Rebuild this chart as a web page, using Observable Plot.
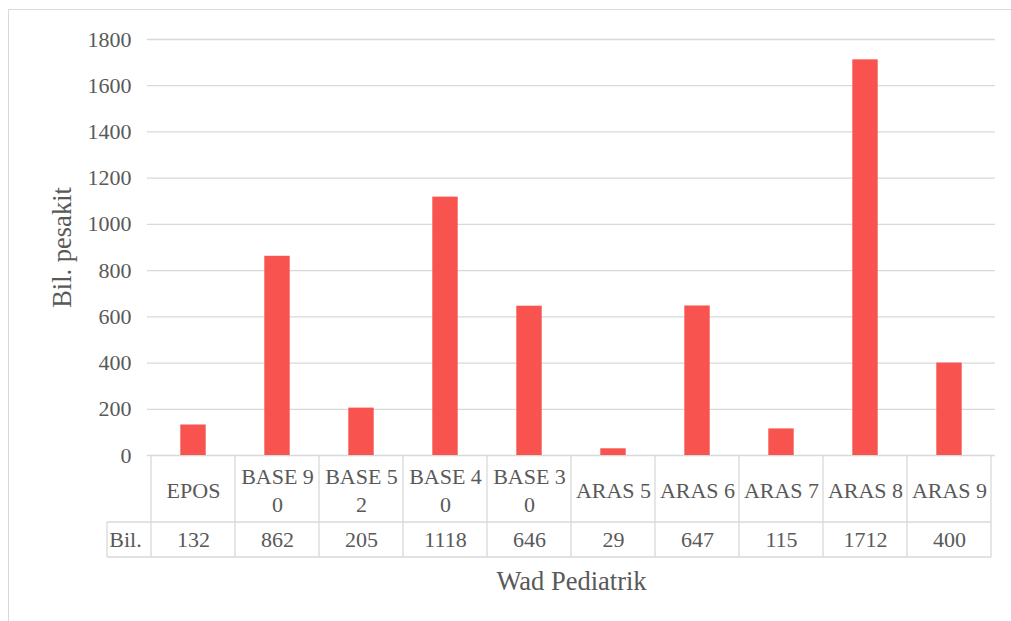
<!DOCTYPE html>
<html>
<head>
<meta charset="utf-8">
<script src="https://cdn.jsdelivr.net/npm/d3@7"></script>
<script src="https://cdn.jsdelivr.net/npm/@observablehq/plot@0.6"></script>
<style>
  html, body { margin: 0; padding: 0; background: #fff; overflow: hidden; }
  #wrap { position: relative; width: 1011px; height: 621px; }
  #frame { position: absolute; left: 8px; top: 9px; right: -4px; bottom: -4px;
           border-left: 1.5px solid #d9d9d9; border-top: 1.5px solid #d9d9d9; pointer-events: none; }
  #chart { position: absolute; left: 0; top: 0; }
  #chart svg, #chart svg text, #chart svg g { font-family: "Liberation Serif", "Times New Roman", "DejaVu Serif", serif !important; }
</style>
</head>
<body>
<div id="wrap"><div id="chart"></div><div id="frame"></div></div>
<script>
// ---- data ----
const categories = ["EPOS", "BASE 90", "BASE 52", "BASE 40", "BASE 30", "ARAS 5", "ARAS 6", "ARAS 7", "ARAS 8", "ARAS 9"];
const tableLabels = ["EPOS", "BASE 9\n0", "BASE 5\n2", "BASE 4\n0", "BASE 3\n0", "ARAS 5", "ARAS 6", "ARAS 7", "ARAS 8", "ARAS 9"];
const values = [132, 862, 205, 1118, 646, 29, 647, 115, 1712, 400];
const yTicks = [0, 200, 400, 600, 800, 1000, 1200, 1400, 1600, 1800];
const rowLabel = "Bil.";
const yTitle = "Bil. pesakit";
const xTitle = "Wad Pediatrik";

const data = categories.map((c, i) => ({category: c, label: tableLabels[i], value: values[i]}));

const textColor = "#595959";
const gridColor = "#d9d9d9";
const barColor = "#F8534E";
const fs = 22;

// table geometry (pixels below the x baseline)
const row1H = 67, row2H = 35, rowLabelW = 44;

function tableMark(index, scales, values_, dimensions) {
  const x = scales.x;
  const bw = x.bandwidth ? x.bandwidth() : (dimensions.width - dimensions.marginLeft - dimensions.marginRight) / categories.length;
  const y0 = scales.y(0);
  const edges = categories.map(c => x(c)).concat([x(categories[categories.length - 1]) + bw]);
  const left = edges[0], right = edges[edges.length - 1];
  const g = d3.create("svg:g").attr("stroke", gridColor).attr("stroke-width", 1.3).attr("fill", "none");
  g.append("line").attr("x1", left - rowLabelW).attr("x2", right).attr("y1", y0 + row1H).attr("y2", y0 + row1H);
  g.append("line").attr("x1", left - rowLabelW).attr("x2", right).attr("y1", y0 + row1H + row2H).attr("y2", y0 + row1H + row2H);
  for (const ex of edges) {
    g.append("line").attr("x1", ex).attr("x2", ex).attr("y1", y0).attr("y2", y0 + row1H + row2H);
  }
  g.append("line").attr("x1", left - rowLabelW).attr("x2", left - rowLabelW).attr("y1", y0 + row1H).attr("y2", y0 + row1H + row2H);
  return g.node();
}

const plot = Plot.plot({
  width: 1011,
  height: 621,
  marginLeft: 147,
  marginRight: 16,
  marginTop: 39,
  marginBottom: 166,
  style: {fontSize: fs + "px", color: textColor, background: "transparent"},
  x: {type: "band", domain: categories, padding: 0, axis: null},
  y: {domain: [0, 1800], axis: null},
  marks: [
    Plot.ruleY(yTicks, {stroke: gridColor, strokeWidth: 1.3}),
    Plot.axisY({ticks: yTicks, tickSize: 0, tickPadding: 16, tickFormat: d => String(d), label: null, fontSize: fs}),
    Plot.barY(data, {x: "category", y: "value", fill: barColor, insetLeft: 29.3, insetRight: 29.3}),
    tableMark,
    Plot.text(data, {x: "category", text: "label", frameAnchor: "bottom", dy: row1H / 2, lineAnchor: "middle", lineHeight: 1.27, fill: textColor, fontSize: fs}),
    Plot.text(data, {x: "category", text: d => String(d.value), frameAnchor: "bottom", dy: row1H + row2H / 2, lineAnchor: "middle", fill: textColor, fontSize: fs}),
    Plot.text([rowLabel], {frameAnchor: "bottom-left", dx: -rowLabelW / 2, dy: row1H + row2H / 2, lineAnchor: "middle", textAnchor: "middle", fill: textColor, fontSize: fs}),
    Plot.text([yTitle], {frameAnchor: "left", dx: -85, rotate: -90, lineAnchor: "middle", textAnchor: "middle", fill: textColor, fontSize: 26.5}),
    Plot.text([xTitle], {frameAnchor: "bottom", dy: 126, lineAnchor: "middle", textAnchor: "middle", fill: textColor, fontSize: 26.5})
  ]
});
document.getElementById("chart").appendChild(plot);
</script>
</body>
</html>
